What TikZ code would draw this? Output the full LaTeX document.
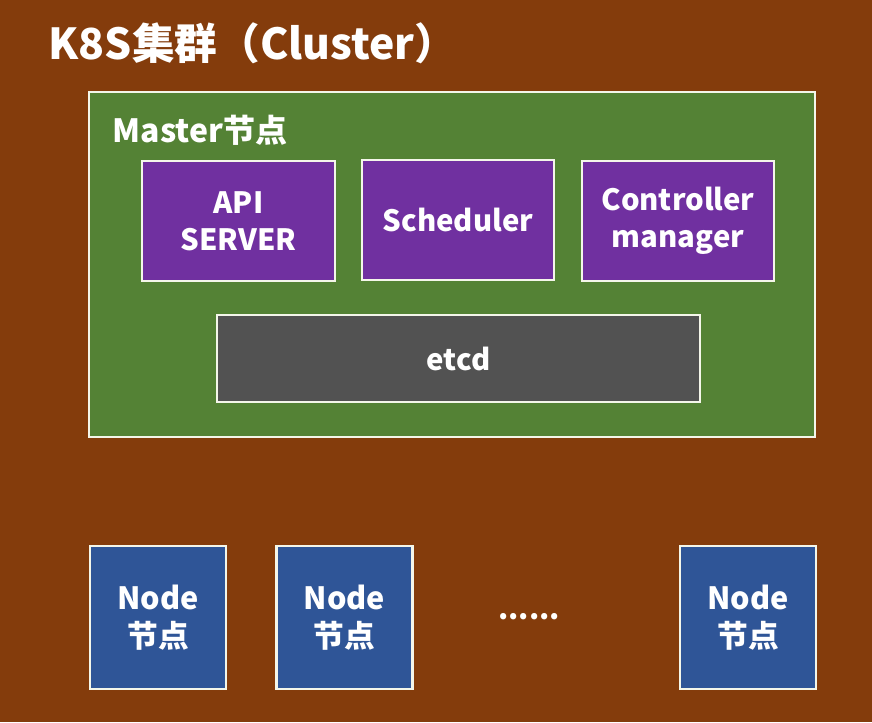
\documentclass[tikz,border=0pt]{standalone}
\usepackage{fontspec}
\setmainfont{Noto Sans CJK SC}
\usetikzlibrary{positioning}
\definecolor{kBrown}{HTML}{843C0C}
\definecolor{kGreen}{HTML}{548235}
\definecolor{kPurple}{HTML}{7030A0}
\definecolor{kGray}{HTML}{525252}
\definecolor{kBlue}{HTML}{2F5597}
\definecolor{kLine}{HTML}{F4F6EA}
\tikzset{
  box/.style={draw=kLine, line width=1.6pt, text=white, align=center,
    font=\bfseries\fontsize{22}{28}\selectfont},
  compbox/.style={box, fill=kPurple, minimum width=144.5pt, minimum height=90pt},
  nodebox/.style={box, fill=kBlue, minimum width=102pt, minimum height=107pt,
    font=\bfseries\fontsize{23}{29}\selectfont},
}

\begin{document}
\begin{tikzpicture}[x=0.75pt, y=-0.75pt]
    \useasboundingbox (0,0) rectangle (872,722);
    \fill[kBrown] (0,0) rectangle (872,722);
    \node[anchor=west, text=white, font=\bfseries\fontsize{32}{38}\selectfont] (title) at (44,43) {K8S集群（Cluster）};

    % master
    \node[box, fill=kGreen, minimum width=544.5pt, minimum height=258.75pt] (master) at (452,264.5) {};
    \node[anchor=west, text=white, font=\bfseries\fontsize{24}{28}\selectfont] (mlabel) at (108,130) {Master节点};
    \node[compbox] (api) at (238.5,221) {API\\SERVER};
    \node[compbox] (sched) at (458,220) {Scheduler};
    \node[compbox] (ctrl) at (678,221) {Controller\\manager};
    \node[box, fill=kGray, minimum width=362pt, minimum height=65pt] (etcd) at (458.5,358.5) {etcd};

    % worker nodes
    \node[nodebox] (node1) at (158,617.5) {Node\\节点};
    \node[nodebox] (node2) at (344.5,617.5) {Node\\节点};
    \node[text=white, font=\bfseries\fontsize{22}{24}\selectfont] (dots) at (529,617) {......};
    \node[nodebox] (node3) at (748,617.5) {Node\\节点};
  \end{tikzpicture}
\end{document}
